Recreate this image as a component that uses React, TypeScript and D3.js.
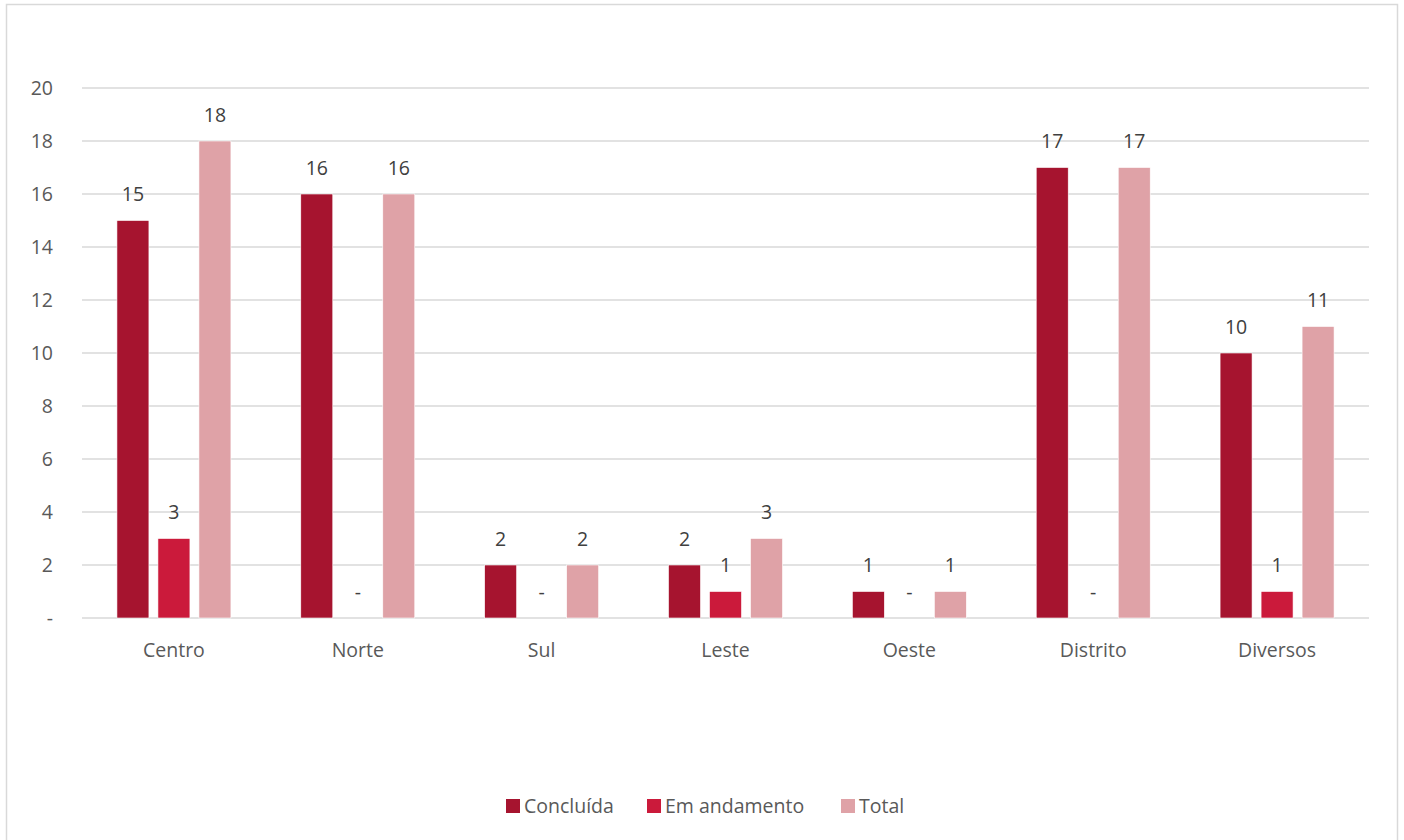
import React from "react";
import * as d3 from "d3";

const categories = ["Centro", "Norte", "Sul", "Leste", "Oeste", "Distrito", "Diversos"];
const seriesNames = ["Concluída", "Em andamento", "Total"];
const concluida = [15, 16, 2, 2, 1, 17, 10];
const emAndamento = [3, 0, 0, 1, 0, 0, 1];
const total = [18, 16, 2, 3, 1, 17, 11];
const yTicks = [0, 2, 4, 6, 8, 10, 12, 14, 16, 18, 20];
const colors = ["#A6142F", "#CB1A3B", "#DFA2A7"];

const W = 1404;
const H = 840;
const plot = { left: 82, right: 1369, top: 88, bottom: 618 };
const FONT = "'Open Sans', 'Noto Sans', sans-serif";
const FS = 19.5;

export default function App() {
  const series = [concluida, emAndamento, total];
  const x0 = d3.scaleBand<string>().domain(categories).range([plot.left, plot.right]).padding(0);
  const y = d3.scaleLinear().domain([0, 20]).range([plot.bottom, plot.top]);
  const bw = x0.bandwidth();
  const barW = bw * 0.174;
  const step = bw * 0.223;
  const groupW = step * 2 + barW;
  const fmt = (v: number) => (v === 0 ? "-" : String(v));

  const legendItems = [
    { name: seriesNames[0], x: 506 },
    { name: seriesNames[1], x: 647 },
    { name: seriesNames[2], x: 841 },
  ];

  return (
    <svg width={W} height={H} style={{ position: "absolute", left: 0, top: 0 }} fontFamily={FONT}>
      <rect x={0} y={0} width={W} height={H} fill="#fff" />
      <rect x={6.5} y={4.5} width={1391} height={840} fill="#fff" stroke="#D9D9D9" strokeWidth={1.5} />
      {yTicks.map((t) => (
        <g key={t}>
          <line x1={plot.left} x2={plot.right} y1={y(t)} y2={y(t)} stroke="#D9D9D9" strokeWidth={1.5} />
          <text x={53} y={y(t)} dy="0.35em" textAnchor="end" fontSize={FS} fill="#595959">
            {t === 0 ? "-" : t}
          </text>
        </g>
      ))}
      {categories.map((c, ci) => {
        const cx = (x0(c) as number) + bw / 2;
        const gx = cx - groupW / 2;
        return (
          <g key={c}>
            {series.map((s, si) => {
              const v = s[ci];
              const bx = gx + si * step;
              return (
                <g key={si}>
                  {v > 0 && (
                    <rect x={bx} y={y(v)} width={barW} height={y(0) - y(v)} fill={colors[si]} stroke="#fff" strokeWidth={0.6} />
                  )}
                  <text x={bx + barW / 2} y={y(v) - 26} dy="0.35em" textAnchor="middle" fontSize={FS} fill="#404040">
                    {fmt(v)}
                  </text>
                </g>
              );
            })}
            <text x={cx} y={650} dy="0.35em" textAnchor="middle" fontSize={FS} fill="#595959">
              {c}
            </text>
          </g>
        );
      })}
      {legendItems.map((it, i) => (
        <g key={it.name}>
          <rect x={it.x} y={799} width={14} height={14} fill={colors[i]} />
          <text x={it.x + 18} y={806} dy="0.35em" fontSize={FS} fill="#595959">
            {it.name}
          </text>
        </g>
      ))}
    </svg>
  );
}
